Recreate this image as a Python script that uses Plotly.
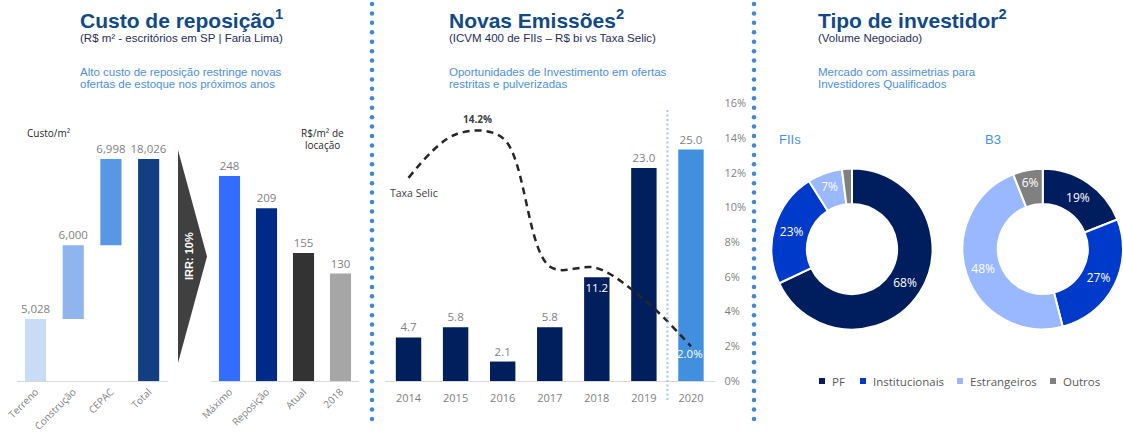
import numpy as np
import plotly.graph_objects as go

W, H = 1123, 434

# ---------------- data ----------------
custo_cats = ["Terreno", "Construção", "CEPAC", "Total"]
custo_vals = [5028, 6000, 6998]
locacao_cats = ["Máximo", "Reposição", "Atual", "2018"]
locacao_vals = [248, 209, 155, 130]
anos = ["2014", "2015", "2016", "2017", "2018", "2019", "2020"]
emissoes = [4.7, 5.8, 2.1, 5.8, 11.2, 23.0, 25.0]
selic = [11.7, 14.2, 14.0, 6.6, 6.5, 4.7, 2.0]
investidores = ["PF", "Institucionais", "Estrangeiros", "Outros"]
fiis_share = [68, 23, 7, 2]
b3_share = [19, 27, 48, 6]

# ---------------- styling ----------------
TITLE_FONT = "Liberation Sans, Arial, sans-serif"
CHART_FONT = "Open Sans, Noto Sans, sans-serif"
GRAY = "#7f7f7f"
TITLE_BLUE = "#114a86"
SUB_NAVY = "#1f2d5c"
LIGHT_BLUE_TXT = "#4a90e2"
AXIS_LINE = "#d9d9d9"
NAVY = "#001f5c"

custo_colors = ["#c9dcf5", "#8fb4ee", "#5797e6", "#123f80"]
locacao_colors = ["#336dff", "#002a87", "#333333", "#a6a6a6"]
emissao_colors = [NAVY] * 6 + ["#4190e0"]
inv_colors = ["#001e5e", "#003acb", "#9ab8ff", "#808080"]


def fx(px):
    return px / W


def fy(py):
    return 1 - py / H


fig = go.Figure()

# ---- waterfall: replacement cost build-up ----
total = sum(custo_vals)
custo_y = custo_vals + [total]
custo_base = [int(b) for b in np.cumsum([0] + custo_vals[:-1])] + [0]
fig.add_trace(go.Bar(
    x=custo_cats, y=custo_y, base=custo_base,
    marker=dict(color=custo_colors, line=dict(width=0)),
    width=0.56,
    text=[f"{v:,}" for v in custo_y], textposition="outside",
    textfont=dict(family=CHART_FONT, size=11.5, color=GRAY),
    cliponaxis=False, constraintext="none",
    xaxis="x", yaxis="y", hoverinfo="skip", showlegend=False,
))

# ---- rent per m2 ----
fig.add_trace(go.Bar(
    x=locacao_cats, y=locacao_vals,
    marker=dict(color=locacao_colors, line=dict(width=0)),
    width=0.57,
    text=[str(v) for v in locacao_vals], textposition="outside",
    textfont=dict(family=CHART_FONT, size=11.5, color=GRAY),
    cliponaxis=False, constraintext="none",
    xaxis="x2", yaxis="y2", hoverinfo="skip", showlegend=False,
))

# ---- new issuances (bars) ----
emis_pos = ["inside" if v == 11.2 else "outside" for v in emissoes]
fig.add_trace(go.Bar(
    x=anos, y=emissoes,
    marker=dict(color=emissao_colors, line=dict(width=0)),
    width=0.54,
    text=[f"{v:.1f}" for v in emissoes], textposition=emis_pos,
    insidetextanchor="end", textangle=0,
    outsidetextfont=dict(family=CHART_FONT, size=11.5, color=GRAY),
    insidetextfont=dict(family=CHART_FONT, size=11.5, color="white"),
    cliponaxis=False, constraintext="none",
    xaxis="x3", yaxis="y3", hoverinfo="skip", showlegend=False,
))

# ---- Selic rate (smoothed dashed line) ----
fig.add_trace(go.Scatter(
    x=anos, y=[v / 100 for v in selic], mode="lines",
    line=dict(color="#262626", width=2.5, dash="7px,5px", shape="spline", smoothing=1),
    xaxis="x3", yaxis="y4", hoverinfo="skip", showlegend=False, cliponaxis=False,
))

# ---- investor type donuts ----
donut_common = dict(
    labels=investidores, sort=False, direction="clockwise", rotation=0,
    hole=0.56, textinfo="text", textposition="inside",
    insidetextorientation="horizontal",
    textfont=dict(family=CHART_FONT, size=12, color="white"),
    marker=dict(colors=inv_colors, line=dict(color="white", width=2)),
    showlegend=False, hoverinfo="skip",
)
fig.add_trace(go.Pie(
    values=fiis_share, text=[f"{v}%" if v >= 5 else "" for v in fiis_share],
    domain=dict(x=[fx(771.5), fx(932.5)], y=[fy(329.5), fy(168.5)]),
    **donut_common,
))
fig.add_trace(go.Pie(
    values=b3_share, text=[f"{v}%" if v >= 5 else "" for v in b3_share],
    domain=dict(x=[fx(962.5), 1.0], y=[fy(329.5), fy(168.5)]),
    **donut_common,
))

# ---- dotted panel separators (overlay axis in pixel units) ----
sep_y = np.arange(4, 420, 9.43)
for sx in (372, 754):
    fig.add_trace(go.Scatter(
        x=[sx] * len(sep_y), y=sep_y, mode="markers",
        marker=dict(size=4.5, color="#3f87da"),
        xaxis="x5", yaxis="y5", hoverinfo="skip", showlegend=False,
    ))

# ---- donut legend ----
legend_sq_x = [822, 863, 960, 1053]
legend_y = 381
fig.add_trace(go.Scatter(
    x=legend_sq_x, y=[legend_y] * 4, mode="markers",
    marker=dict(size=6, symbol="square", color=inv_colors),
    xaxis="x5", yaxis="y5", hoverinfo="skip", showlegend=False,
))

annotations = []


def note(text, x, y, size, color, family=CHART_FONT, xanchor="left", **kw):
    annotations.append(dict(
        text=text, x=fx(x), y=fy(y), xref="paper", yref="paper",
        xanchor=xanchor, yanchor="middle", showarrow=False,
        font=dict(family=family, size=size, color=color), **kw,
    ))


for name, sx in zip(investidores, legend_sq_x):
    note(name, sx + 8, legend_y, 11.5, "#595959")

# panel headings
heads = [
    (78, "Custo de reposição<sup>1</sup>", "(R$ m² - escritórios em SP | Faria Lima)",
     ["Alto custo de reposição restringe novas", "ofertas de estoque nos próximos anos"]),
    (447, "Novas Emissões<sup>2</sup>", "(ICVM 400 de FIIs – R$ bi vs Taxa Selic)",
     ["Oportunidades de Investimento em ofertas", "restritas e pulverizadas"]),
    (816, "Tipo de investidor<sup>2</sup>", "(Volume Negociado)",
     ["Mercado com assimetrias para", "Investidores Qualificados"]),
]
for hx, title, sub, blue in heads:
    note(f"<b>{title}</b>", hx, 19, 21, TITLE_BLUE, family=TITLE_FONT)
    note(sub, hx, 38, 11.5, SUB_NAVY, family=TITLE_FONT)
    note(blue[0], hx, 72, 11.5, LIGHT_BLUE_TXT, family=TITLE_FONT)
    note(blue[1], hx, 84, 11.5, LIGHT_BLUE_TXT, family=TITLE_FONT)

# panel 1 axis captions
note("Custo/m²", 25, 133, 10, "#262626")
note("R$/m² de", 322, 133, 10, "#262626", xanchor="center")
note("locação", 322, 145, 10, "#262626", xanchor="center")
note("<b>IRR: 10%</b>", 189, 256, 11, "white", family=TITLE_FONT, xanchor="center", textangle=-90)

# panel 2 labels (category positions given by index)
note("Taxa Selic", 388, 193, 10.5, "#404040")
i_peak = anos.index("2015")
i_last = len(anos) - 1
annotations.append(dict(
    text=f"<b>{selic[i_peak]:.1f}%</b>", x=i_peak, y=selic[i_peak] / 100, xref="x3", yref="y4",
    xshift=22, yshift=15, showarrow=False,
    font=dict(family=CHART_FONT, size=10, color="#404040"),
))
annotations.append(dict(
    text=f"{selic[i_last]:.1f}%", x=i_last, y=selic[i_last] / 100, xref="x3", yref="y4",
    xshift=-1, yshift=-7, showarrow=False,
    font=dict(family=CHART_FONT, size=11.5, color="white"),
))

# donut captions
note("FIIs", 777, 139, 13, LIGHT_BLUE_TXT, family=TITLE_FONT)
note("B3", 983, 139, 13, LIGHT_BLUE_TXT, family=TITLE_FONT)

shapes = [
    # arrow between cost and rent
    dict(type="path", xref="paper", yref="paper",
         path=f"M{fx(178)},{fy(150)} L{fx(207)},{fy(256.5)} L{fx(178)},{fy(363)} Z",
         fillcolor="#404040", line=dict(width=0), layer="below"),
    # projection divider between 2019 and 2020
    dict(type="line", xref="x3", yref="paper", x0=5.5, x1=5.5, y0=fy(400), y1=fy(110),
         line=dict(color="#a9c5ee", width=2, dash="2px,2.5px")),
]

k1 = (381 - 159) / total            # px per R$ on cost scale
k2 = (381 - 176) / locacao_vals[0]  # px per R$ on rent scale

cat_axis = dict(
    type="category", automargin=False,
    showline=True, linecolor=AXIS_LINE, linewidth=1.3, ticks="", showgrid=False,
    zeroline=False, fixedrange=True,
)
rot_font = dict(family=CHART_FONT, size=10, color=GRAY)
hidden_y = dict(visible=False, showgrid=False, zeroline=False, fixedrange=True, automargin=False)

fig.update_layout(
    template="none",
    width=W, height=H, margin=dict(l=0, r=0, t=0, b=0, autoexpand=False),
    paper_bgcolor="white", plot_bgcolor="rgba(0,0,0,0)",
    bargap=0.4,
    xaxis=dict(domain=[fx(16.7), fx(167.5)], anchor="y", tickangle=-45,
               range=[-0.5, len(custo_cats) - 0.5], tickfont=rot_font,
               ticklabelstandoff=0, **cat_axis),
    yaxis=dict(domain=[fy(381), fy(381 - 20000 * k1)], range=[0, 20000], anchor="x", **hidden_y),
    xaxis2=dict(domain=[fx(211), fx(359)], anchor="y2", tickangle=-45,
                range=[-0.5, len(locacao_cats) - 0.5], tickfont=rot_font,
                ticklabelstandoff=0, **cat_axis),
    yaxis2=dict(domain=[fy(381), fy(381 - 300 * k2)], range=[0, 300], anchor="x2", **hidden_y),
    xaxis3=dict(domain=[fx(385), fx(714.5)], anchor="y3", ticklabelstandoff=7,
                range=[-0.5, len(anos) - 0.5],
                tickfont=dict(family=CHART_FONT, size=11, color=GRAY), **cat_axis),
    yaxis3=dict(domain=[fy(381), fy(103.2)], range=[0, 30], anchor="x3", **hidden_y),
    yaxis4=dict(overlaying="y3", side="right", anchor="x3", range=[0, 0.16],
                dtick=0.02, tickformat=".0%", showgrid=False, zeroline=False,
                showline=False, ticks="", ticklabelstandoff=9, fixedrange=True,
                automargin=False,
                tickfont=dict(family=CHART_FONT, size=11, color=GRAY)),
    xaxis5=dict(domain=[0, 1], range=[0, W], anchor="y5", visible=False, fixedrange=True),
    yaxis5=dict(domain=[0, 1], range=[H, 0], anchor="x5", visible=False, fixedrange=True),
    annotations=annotations,
    shapes=shapes,
)

fig.write_html("out.html")
